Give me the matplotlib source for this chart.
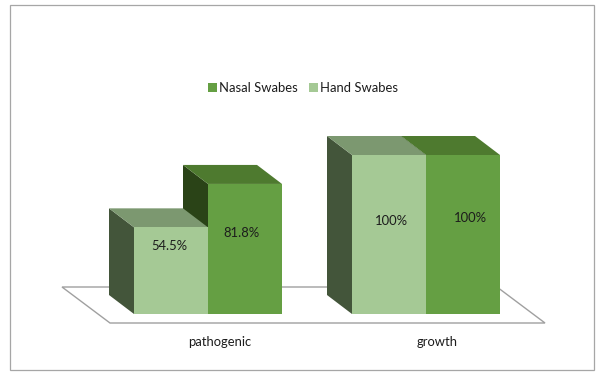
import matplotlib
matplotlib.use("Agg")
import matplotlib.pyplot as plt
from matplotlib.patches import Polygon, Rectangle

categories = ["pathogenic", "growth"]
series_names = ["Hand Swabes", "Nasal Swabes"]
hand_values = [54.5, 100]
nasal_values = [81.8, 100]
hand_labels = ["54.5%", "100%"]
nasal_labels = ["81.8%", "100%"]

plt.rcParams["font.family"] = ["Lato", "DejaVu Sans"]
TXT = "#1c1c1c"
FS = 9.4
HAND = dict(front="#a5c995", top="#7c9870", side="#43553a")
NASAL = dict(front="#659f43", top="#4e7a2f", side="#2a4317")

fig = plt.figure(figsize=(6, 3.76), dpi=100, facecolor="white")
ax = fig.add_axes([0, 0, 1, 1])
ax.set_xlim(0, 600)
# 1 value unit = 1.59 px; baseline at pixel row 314
PX = 1.59
ax.set_ylim(-62 / PX, 314 / PX)
ax.axis("off")

def py(pixel_row):
    return (314 - pixel_row) / PX

ax.add_patch(Rectangle((10, py(370)), 584, py(5) - py(370), fill=False,
                       ec="#a6a6a6", lw=0.9, zorder=0))
ax.add_patch(Polygon([(62, py(287)), (110, py(323)), (545, py(323)), (497, py(287))],
                     closed=True, fc="white", ec="#a0a0a0", lw=1.0, zorder=1))

centers = [208, 426]
bw = 74
dx, dy = -25, 19 / PX

def bar3d(left, v, c, z):
    ax.bar(left, v, width=bw, align="edge", color=c["front"], lw=0, zorder=z + 0.2)
    ax.add_patch(Polygon([(left, v), (left + bw, v), (left + bw + dx, v + dy), (left + dx, v + dy)],
                         closed=True, fc=c["top"], ec="none", zorder=z + 0.1))
    ax.add_patch(Polygon([(left, 0), (left, v), (left + dx, v + dy), (left + dx, dy)],
                         closed=True, fc=c["side"], ec="none", zorder=z))

hand_offsets = [(-2, 246), (2.5, 221)]
nasal_offsets = [(-4, 233), (7.5, 218)]
for cx, h, n, hl, nl, ho, no in zip(centers, hand_values, nasal_values, hand_labels,
                                    nasal_labels, hand_offsets, nasal_offsets):
    bar3d(cx, n, NASAL, 2)
    bar3d(cx - bw, h, HAND, 3)
    ax.text(cx - bw / 2 + ho[0], py(ho[1]), hl, ha="center", va="center",
            fontsize=FS, color=TXT, zorder=6)
    ax.text(cx + bw / 2 + no[0], py(no[1]), nl, ha="center", va="center",
            fontsize=FS, color=TXT, zorder=6)

ax.text(219.5, py(342), categories[0], ha="center", va="center", fontsize=FS, color=TXT)
ax.text(437, py(342), categories[1], ha="center", va="center", fontsize=FS, color=TXT)

# legend
ax.add_patch(Rectangle((208, py(92)), 9, py(83) - py(92), fc=NASAL["front"], ec="none"))
ax.text(219, py(87.5), series_names[1], ha="left", va="center", fontsize=FS, color=TXT)
ax.add_patch(Rectangle((309, py(92)), 9, py(83) - py(92), fc=HAND["front"], ec="none"))
ax.text(320.5, py(87.5), series_names[0], ha="left", va="center", fontsize=FS, color=TXT)

fig.savefig("out.png", dpi=100, facecolor="white")
